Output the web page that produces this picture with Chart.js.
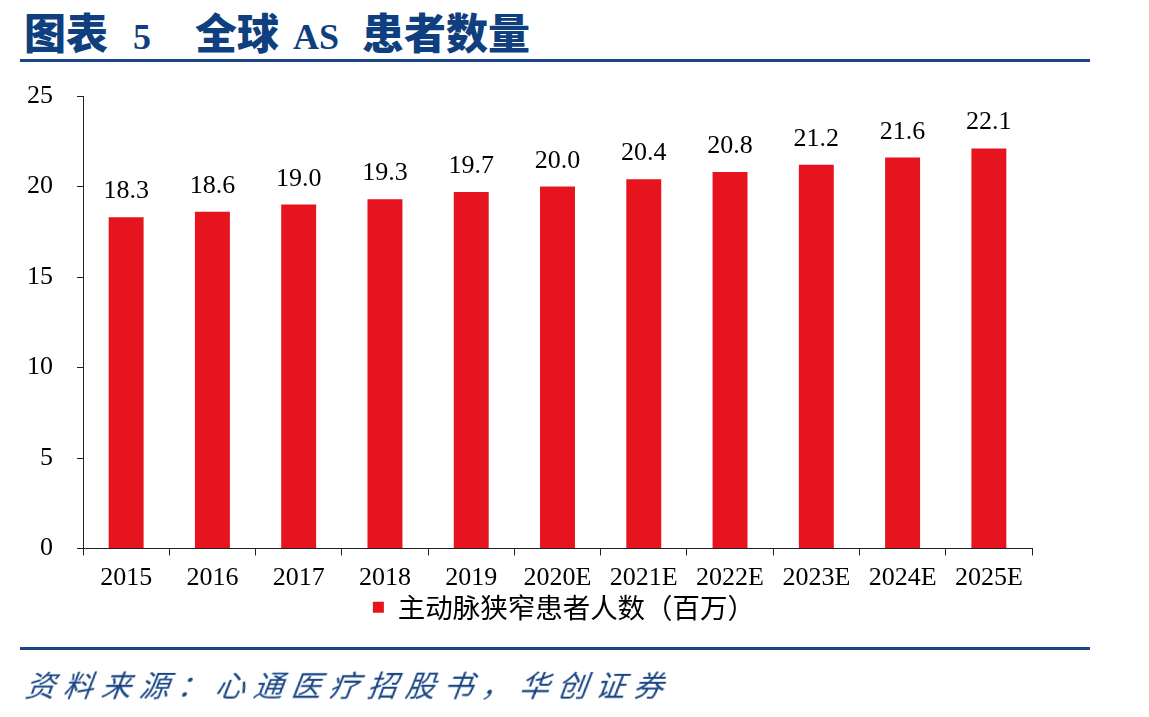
<!DOCTYPE html>
<html>
<head>
<meta charset="utf-8">
<script src="https://cdn.jsdelivr.net/npm/chart.js@4.4.1/dist/chart.umd.min.js"></script>
<style>
  html, body { margin: 0; padding: 0; background: #fff; }
  #wrap { position: relative; width: 1149px; height: 717px; overflow: hidden; }
  #title { position: absolute; left: 0; top: 6px; color: #0f3f7e; white-space: nowrap; line-height: 50px; }
  #title .cjk { font-family: "Noto Sans CJK SC", sans-serif; font-weight: 900; font-size: 42px; }
  #title .lat { font-family: "Liberation Serif", serif; font-weight: bold; font-size: 36px; }
  .rule { position: absolute; left: 20px; width: 1070px; height: 3px; background: #1a4685; }
  #foot { position: absolute; left: 26px; top: 664px; font-family: "Noto Sans CJK SC", sans-serif; font-style: italic; font-size: 30px; letter-spacing: 8px; color: #1a4685; white-space: pre; line-height: 40px; transform: skewX(-8deg); }
  canvas { position: absolute; left: 0; top: 0; }
</style>
</head>
<body>
<div id="wrap">
  <div id="title"><span class="cjk" style="margin-left:24px">图表</span><span class="lat" style="margin-left:25px">5</span><span class="cjk" style="margin-left:44px">全球</span><span class="lat" style="margin-left:14px">AS</span><span class="cjk" style="margin-left:23px">患者数量</span></div>
  <div class="rule" style="top:59px"></div>
  <canvas id="c" width="1149" height="717"></canvas>
  <div class="rule" style="top:647px"></div>
  <div id="foot">资料来源：心通医疗招股书，华创证券</div>
</div>
<script>
const categories = ["2015","2016","2017","2018","2019","2020E","2021E","2022E","2023E","2024E","2025E"];
const patients = [18.3, 18.6, 19.0, 19.3, 19.7, 20.0, 20.4, 20.8, 21.2, 21.6, 22.1];
const seriesName = "主动脉狭窄患者人数（百万）";
const yTicks = [0, 5, 10, 15, 20, 25];

const valueLabels = {
  id: 'valueLabels',
  afterDatasetsDraw(chart) {
    const ctx = chart.ctx;
    ctx.save();
    ctx.font = '26px "Liberation Serif", serif';
    ctx.fillStyle = '#000';
    ctx.textAlign = 'center';
    ctx.textBaseline = 'alphabetic';
    chart.getDatasetMeta(0).data.forEach((bar, i) => {
      ctx.fillText(patients[i].toFixed(1), bar.x, bar.y - 19);
    });
    ctx.restore();
  }
};

const legendShift = {
  id: 'legendShift',
  afterLayout(chart) {
    const lg = chart.legend;
    if (!lg) return;
    const cur = (lg.left + lg.right) / 2;
    const d = 564 - cur;
    lg.left += d; lg.right += d;
  }
};

new Chart(document.getElementById('c'), {
  type: 'bar',
  data: {
    labels: categories,
    datasets: [{
      label: seriesName,
      data: patients,
      backgroundColor: '#e5141e',
      borderWidth: 0,
      barPercentage: 0.405,
      categoryPercentage: 1.0
    }]
  },
  options: {
    responsive: false,
    animation: false,
    devicePixelRatio: 1,
    layout: { padding: { top: 96, left: 0, right: 117, bottom: 86 } },
    plugins: {
      legend: {
        position: 'bottom',
        labels: {
          boxWidth: 11, boxHeight: 11, padding: 5,
          color: '#000',
          font: { family: '"Noto Sans CJK SC", sans-serif', size: 27.5 }
        }
      },
      tooltip: { enabled: false }
    },
    scales: {
      x: {
        afterFit(scale) { scale.height = 40; },
        border: { display: true, color: '#222', width: 1 },
        grid: { display: true, drawOnChartArea: false, drawTicks: true, tickLength: 7, color: '#222', offset: true },
        ticks: { color: '#000', padding: 7, maxRotation: 0, autoSkip: false, font: { family: '"Liberation Serif", serif', size: 26 } }
      },
      y: {
        min: 0, max: 25,
        afterFit(scale) { scale.width = 83; },
        afterBuildTicks(scale) { scale.ticks = yTicks.map(v => ({ value: v })); },
        border: { display: true, color: '#222', width: 1 },
        grid: { display: true, drawOnChartArea: false, drawTicks: true, tickLength: 6, color: '#222' },
        ticks: { color: '#000', padding: 24, font: { family: '"Liberation Serif", serif', size: 26 } }
      }
    }
  },
  plugins: [valueLabels, legendShift]
});
</script>
</body>
</html>
